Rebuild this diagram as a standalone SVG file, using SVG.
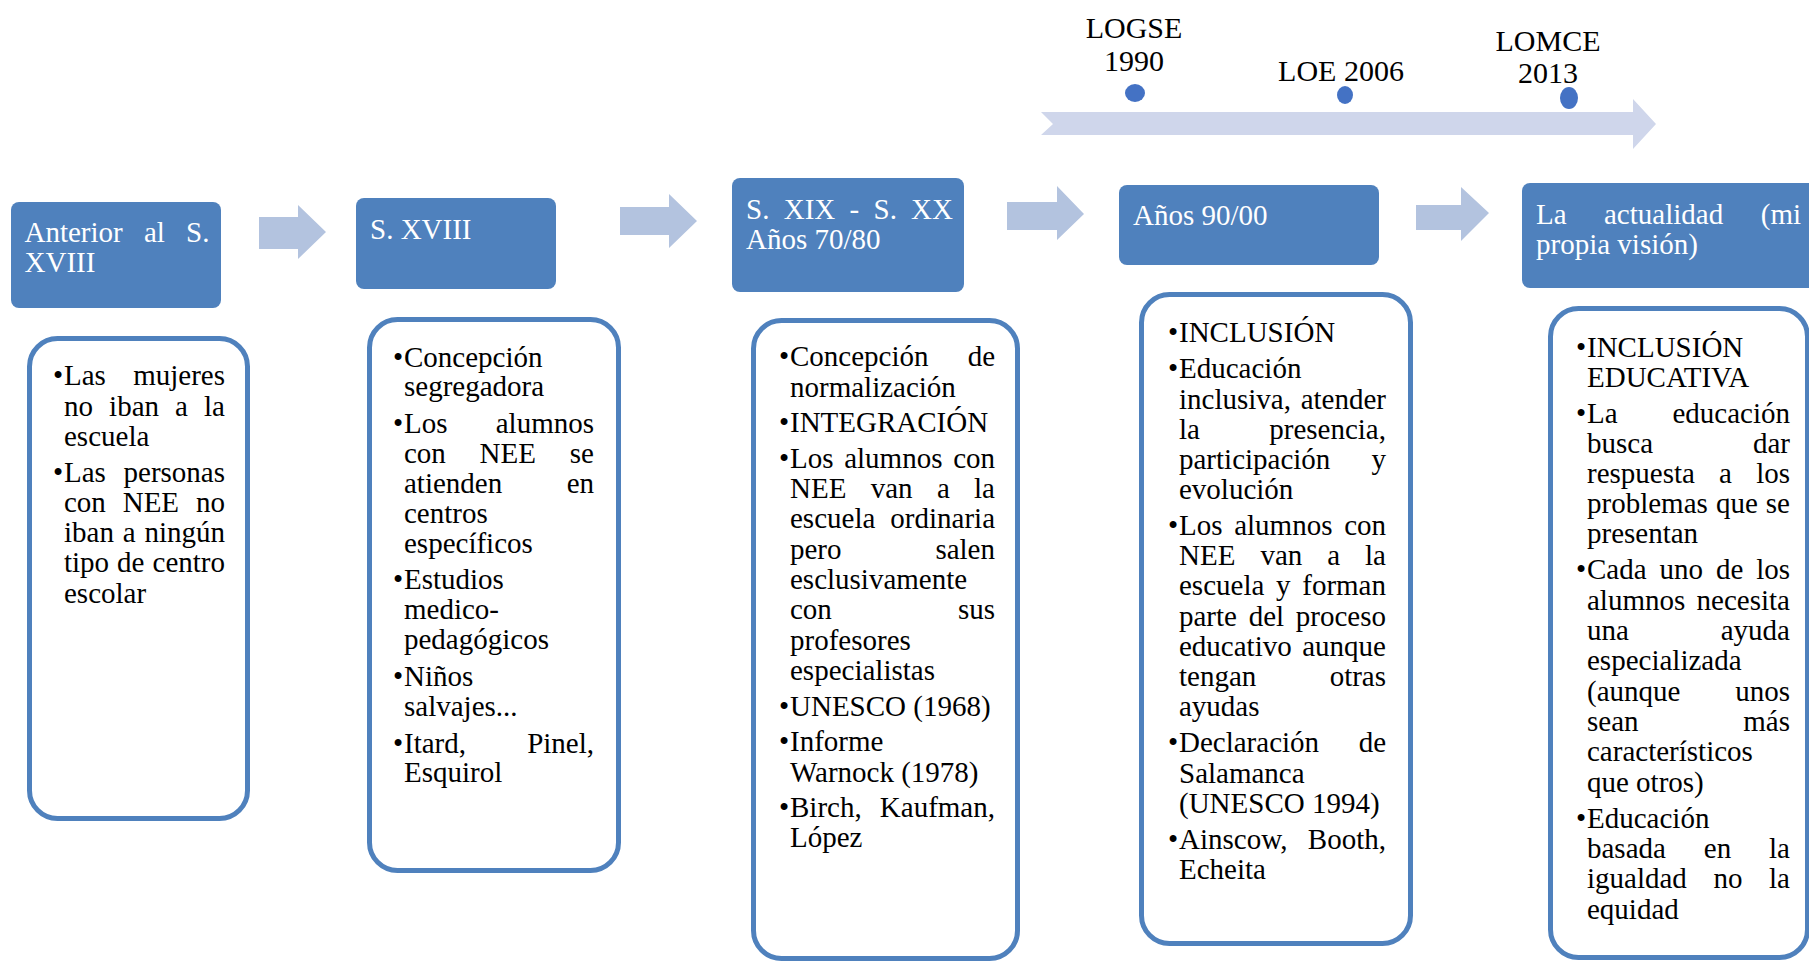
<svg xmlns="http://www.w3.org/2000/svg" width="1809" height="963" viewBox="0 0 1809 963">
<style>
.hdr{fill:#4F81BD;}
.box{fill:#FFFFFF;stroke:#4F81BD;stroke-width:5;}
.ht{font-family:"Liberation Serif","Times New Roman",serif;font-size:29px;fill:#FFFFFF;}
.bt{font-family:"Liberation Serif","Times New Roman",serif;font-size:29px;fill:#000000;}
.lt{font-family:"Liberation Serif","Times New Roman",serif;font-size:30px;fill:#000000;text-anchor:middle;}
.arr{fill:#B3C3DF;}
.tl{fill:#CFD6EB;}
.dot{fill:#4472C4;}
.e{text-anchor:end;}
</style>
<rect width="1809" height="963" fill="#FFFFFF"/>

<g id="connectors">
  <polygon class="arr" points="259,217 298,217 298,205 326,232 298,259 298,249 259,249"/>
  <polygon class="arr" points="620,207 669,207 669,194 697,221 669,248 669,235 620,235"/>
  <polygon class="arr" points="1007,202 1057,202 1057,186 1084,214 1057,240 1057,230 1007,230"/>
  <polygon class="arr" points="1416,205 1461,205 1461,187 1489,213 1461,241 1461,230 1416,230"/>
</g>

<g id="timeline">
  <polygon class="tl" points="1041,112 1633,112 1633,99 1656,124 1633,149 1633,135 1041,135 1053,124"/>
  <g id="logse">
    <ellipse class="dot" cx="1135" cy="93" rx="10" ry="9"/>
    <text class="lt" x="1134" y="38">LOGSE</text>
    <text class="lt" x="1134" y="71">1990</text>
  </g>
  <g id="loe">
    <ellipse class="dot" cx="1345" cy="95" rx="8" ry="9"/>
    <text class="lt" x="1341" y="81">LOE 2006</text>
  </g>
  <g id="lomce">
    <ellipse class="dot" cx="1569" cy="98" rx="9" ry="11"/>
    <text class="lt" x="1548" y="51">LOMCE</text>
    <text class="lt" x="1548" y="83">2013</text>
  </g>
</g>

<g id="node1">
  <rect class="hdr" x="11" y="202" width="210" height="106" rx="8"/>
  <text class="ht" y="242"><tspan x="24.5">Anterior</tspan><tspan x="144">al</tspan><tspan x="209.5" class="e">S.</tspan></text>
  <text class="ht" x="24.5" y="272">XVIII</text>
  <rect class="box" x="29.5" y="338.5" width="218" height="480" rx="28"/>
  <text class="bt" y="385"><tspan x="53">•</tspan><tspan x="64">Las</tspan><tspan x="225" class="e">mujeres</tspan></text>
  <text class="bt" y="416"><tspan x="64">no</tspan><tspan x="109.1">iban</tspan><tspan x="175.1">a</tspan><tspan x="225" class="e">la</tspan></text>
  <text class="bt" x="64" y="446">escuela</text>
  <text class="bt" y="482"><tspan x="53">•</tspan><tspan x="64">Las</tspan><tspan x="225" class="e">personas</tspan></text>
  <text class="bt" y="512"><tspan x="64">con</tspan><tspan x="122.7">NEE</tspan><tspan x="225" class="e">no</tspan></text>
  <text class="bt" y="542"><tspan x="64">iban</tspan><tspan x="122.7">a</tspan><tspan x="225" class="e">ningún</tspan></text>
  <text class="bt" y="572"><tspan x="64">tipo</tspan><tspan x="117.1">de</tspan><tspan x="225" class="e">centro</tspan></text>
  <text class="bt" x="64" y="603">escolar</text>
</g>

<g id="node2">
  <rect class="hdr" x="356" y="198" width="200" height="91" rx="8"/>
  <text class="ht" x="370" y="239">S. XVIII</text>
  <rect class="box" x="369.5" y="319.5" width="249" height="551" rx="28"/>
  <text class="bt" y="367"><tspan x="393">•</tspan><tspan x="404">Concepción</tspan></text>
  <text class="bt" x="404" y="396">segregadora</text>
  <text class="bt" y="433"><tspan x="393">•</tspan><tspan x="404">Los</tspan><tspan x="594" class="e">alumnos</tspan></text>
  <text class="bt" y="463"><tspan x="404">con</tspan><tspan x="479.6">NEE</tspan><tspan x="594" class="e">se</tspan></text>
  <text class="bt" y="493"><tspan x="404">atienden</tspan><tspan x="594" class="e">en</tspan></text>
  <text class="bt" x="404" y="523">centros</text>
  <text class="bt" x="404" y="553">específicos</text>
  <text class="bt" y="589"><tspan x="393">•</tspan><tspan x="404">Estudios</tspan></text>
  <text class="bt" x="404" y="619">medico-</text>
  <text class="bt" x="404" y="649">pedagógicos</text>
  <text class="bt" y="686"><tspan x="393">•</tspan><tspan x="404">Niños</tspan></text>
  <text class="bt" x="404" y="716">salvajes...</text>
  <text class="bt" y="753"><tspan x="393">•</tspan><tspan x="404">Itard,</tspan><tspan x="594" class="e">Pinel,</tspan></text>
  <text class="bt" x="404" y="782">Esquirol</text>
</g>

<g id="node3">
  <rect class="hdr" x="732" y="178" width="232" height="114" rx="8"/>
  <text class="ht" y="219"><tspan x="746">S.</tspan><tspan x="783.7">XIX</tspan><tspan x="849.5">-</tspan><tspan x="873.5">S.</tspan><tspan x="953" class="e">XX</tspan></text>
  <text class="ht" x="746" y="249">Años 70/80</text>
  <rect class="box" x="753.5" y="320.5" width="264" height="638" rx="28"/>
  <text class="bt" y="366"><tspan x="779">•</tspan><tspan x="790">Concepción</tspan><tspan x="995" class="e">de</tspan></text>
  <text class="bt" x="790" y="396.5">normalización</text>
  <text class="bt" y="432"><tspan x="779">•</tspan><tspan x="790">INTEGRACIÓN</tspan></text>
  <text class="bt" y="467.5"><tspan x="779">•</tspan><tspan x="790">Los</tspan><tspan x="844.2">alumnos</tspan><tspan x="995" class="e">con</tspan></text>
  <text class="bt" y="498"><tspan x="790">NEE</tspan><tspan x="870.7">van</tspan><tspan x="936.9">a</tspan><tspan x="995" class="e">la</tspan></text>
  <text class="bt" y="528"><tspan x="790">escuela</tspan><tspan x="995" class="e">ordinaria</tspan></text>
  <text class="bt" y="558.5"><tspan x="790">pero</tspan><tspan x="995" class="e">salen</tspan></text>
  <text class="bt" x="790" y="589">esclusivamente</text>
  <text class="bt" y="619"><tspan x="790">con</tspan><tspan x="995" class="e">sus</tspan></text>
  <text class="bt" x="790" y="649.5">profesores</text>
  <text class="bt" x="790" y="680">especialistas</text>
  <text class="bt" y="715.5"><tspan x="779">•</tspan><tspan x="790">UNESCO (1968)</tspan></text>
  <text class="bt" y="751"><tspan x="779">•</tspan><tspan x="790">Informe</tspan></text>
  <text class="bt" x="790" y="781.5">Warnock (1978)</text>
  <text class="bt" y="817"><tspan x="779">•</tspan><tspan x="790">Birch,</tspan><tspan x="995" class="e">Kaufman,</tspan></text>
  <text class="bt" x="790" y="847">López</text>
</g>

<g id="node4">
  <rect class="hdr" x="1119" y="185" width="260" height="80" rx="8"/>
  <text class="ht" x="1133" y="225">Años 90/00</text>
  <rect class="box" x="1141.5" y="294.5" width="269" height="649" rx="28"/>
  <text class="bt" y="342"><tspan x="1168">•</tspan><tspan x="1179">INCLUSIÓN</tspan></text>
  <text class="bt" y="378"><tspan x="1168">•</tspan><tspan x="1179">Educación</tspan></text>
  <text class="bt" y="408.5"><tspan x="1179">inclusiva,</tspan><tspan x="1386" class="e">atender</tspan></text>
  <text class="bt" y="439"><tspan x="1179">la</tspan><tspan x="1386" class="e">presencia,</tspan></text>
  <text class="bt" y="469"><tspan x="1179">participación</tspan><tspan x="1386" class="e">y</tspan></text>
  <text class="bt" x="1179" y="499">evolución</text>
  <text class="bt" y="535"><tspan x="1168">•</tspan><tspan x="1179">Los</tspan><tspan x="1234.2">alumnos</tspan><tspan x="1386" class="e">con</tspan></text>
  <text class="bt" y="565"><tspan x="1179">NEE</tspan><tspan x="1260.4">van</tspan><tspan x="1327.2">a</tspan><tspan x="1386" class="e">la</tspan></text>
  <text class="bt" y="595"><tspan x="1179">escuela</tspan><tspan x="1276">y</tspan><tspan x="1386" class="e">forman</tspan></text>
  <text class="bt" y="625.5"><tspan x="1179">parte</tspan><tspan x="1248.7">del</tspan><tspan x="1386" class="e">proceso</tspan></text>
  <text class="bt" y="656"><tspan x="1179">educativo</tspan><tspan x="1386" class="e">aunque</tspan></text>
  <text class="bt" y="686"><tspan x="1179">tengan</tspan><tspan x="1386" class="e">otras</tspan></text>
  <text class="bt" x="1179" y="716">ayudas</text>
  <text class="bt" y="752"><tspan x="1168">•</tspan><tspan x="1179">Declaración</tspan><tspan x="1386" class="e">de</tspan></text>
  <text class="bt" x="1179" y="783">Salamanca</text>
  <text class="bt" x="1179" y="813">(UNESCO 1994)</text>
  <text class="bt" y="849"><tspan x="1168">•</tspan><tspan x="1179">Ainscow,</tspan><tspan x="1386" class="e">Booth,</tspan></text>
  <text class="bt" x="1179" y="879">Echeita</text>
</g>

<g id="node5">
  <rect class="hdr" x="1522" y="183" width="300" height="105" rx="8"/>
  <text class="ht" y="224"><tspan x="1536">La</tspan><tspan x="1604">actualidad</tspan><tspan x="1801" class="e">(mi</tspan></text>
  <text class="ht" x="1536" y="254">propia visión)</text>
  <rect class="box" x="1550.5" y="308.5" width="257" height="649" rx="28"/>
  <text class="bt" y="357"><tspan x="1576">•</tspan><tspan x="1587">INCLUSIÓN</tspan></text>
  <text class="bt" x="1587" y="387">EDUCATIVA</text>
  <text class="bt" y="422.5"><tspan x="1576">•</tspan><tspan x="1587">La</tspan><tspan x="1790" class="e">educación</tspan></text>
  <text class="bt" y="452.5"><tspan x="1587">busca</tspan><tspan x="1790" class="e">dar</tspan></text>
  <text class="bt" y="483"><tspan x="1587">respuesta</tspan><tspan x="1719.1">a</tspan><tspan x="1790" class="e">los</tspan></text>
  <text class="bt" y="513"><tspan x="1587">problemas</tspan><tspan x="1715.9">que</tspan><tspan x="1790" class="e">se</tspan></text>
  <text class="bt" x="1587" y="543">presentan</text>
  <text class="bt" y="579"><tspan x="1576">•</tspan><tspan x="1587">Cada</tspan><tspan x="1659.5">uno</tspan><tspan x="1715.9">de</tspan><tspan x="1790" class="e">los</tspan></text>
  <text class="bt" y="609.5"><tspan x="1587">alumnos</tspan><tspan x="1790" class="e">necesita</tspan></text>
  <text class="bt" y="640"><tspan x="1587">una</tspan><tspan x="1790" class="e">ayuda</tspan></text>
  <text class="bt" x="1587" y="670">especializada</text>
  <text class="bt" y="700.5"><tspan x="1587">(aunque</tspan><tspan x="1790" class="e">unos</tspan></text>
  <text class="bt" y="731"><tspan x="1587">sean</tspan><tspan x="1790" class="e">más</tspan></text>
  <text class="bt" x="1587" y="761">característicos</text>
  <text class="bt" x="1587" y="791.5">que otros)</text>
  <text class="bt" y="827.5"><tspan x="1576">•</tspan><tspan x="1587">Educación</tspan></text>
  <text class="bt" y="858"><tspan x="1587">basada</tspan><tspan x="1703.8">en</tspan><tspan x="1790" class="e">la</tspan></text>
  <text class="bt" y="888"><tspan x="1587">igualdad</tspan><tspan x="1713.5">no</tspan><tspan x="1790" class="e">la</tspan></text>
  <text class="bt" x="1587" y="918.5">equidad</text>
</g>
</svg>
